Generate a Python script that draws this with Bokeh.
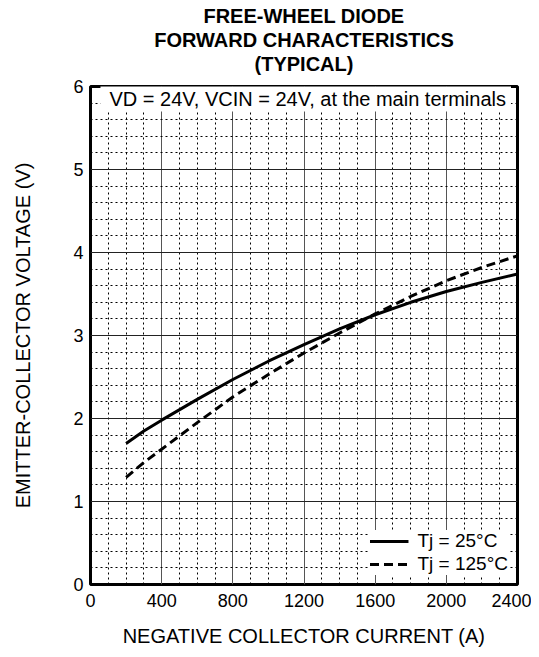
from bokeh.plotting import figure
from bokeh.models import Range1d, FixedTicker, Title, Label, Legend, LegendItem
from bokeh.embed import file_html
from bokeh.resources import INLINE

# ---- data ----
current_a = [200, 300, 400, 600, 800, 1000, 1200, 1400, 1600, 1800, 2000, 2200, 2400]
v_tj25 = [1.70, 1.85, 1.98, 2.23, 2.47, 2.69, 2.89, 3.08, 3.25, 3.40, 3.53, 3.64, 3.74]
v_tj125 = [1.29, 1.47, 1.63, 1.95, 2.26, 2.53, 2.79, 3.03, 3.26, 3.47, 3.66, 3.82, 3.96]

x_major = [0, 400, 800, 1200, 1600, 2000, 2400]
x_minor = [100, 200, 300, 500, 600, 700, 900, 1000, 1100, 1300, 1400, 1500,
           1700, 1800, 1900, 2100, 2200, 2300]
y_major = [0, 1, 2, 3, 4, 5, 6]
y_minor = [0.2, 0.4, 0.6, 0.8, 1.2, 1.4, 1.6, 1.8, 2.2, 2.4, 2.6, 2.8,
           3.2, 3.4, 3.6, 3.8, 4.2, 4.4, 4.6, 4.8, 5.2, 5.4, 5.6, 5.8]

title_lines = ["FREE-WHEEL DIODE", "FORWARD CHARACTERISTICS", "(TYPICAL)"]
x_label = "NEGATIVE COLLECTOR CURRENT (A)"
y_label = "EMITTER-COLLECTOR VOLTAGE (V)"
note = "VD = 24V, VCIN = 24V, at the main terminals"
legend_labels = ["Tj = 25°C", "Tj = 125°C"]

FONT = "Liberation Sans"

p = figure(width=531, height=649,
           x_range=Range1d(0, 2400), y_range=Range1d(0, 6),
           output_backend="svg", toolbar_location=None,
           min_border_left=90, min_border_right=14,
           min_border_top=86, min_border_bottom=65)

p.title.text = ""
# spacer between the frame and the title block
p.add_layout(Title(text=" ", text_font=FONT, text_font_size="9px",
                   standoff=0), "above")
for t in reversed(title_lines):
    p.add_layout(Title(text=t, align="center", text_font=FONT,
                       text_font_size="20px", text_font_style="bold",
                       text_color="black", standoff=0), "above")

p.background_fill_color = "white"
p.border_fill_color = "white"
p.outline_line_color = "black"
p.outline_line_width = 3

# axes
p.xaxis.ticker = FixedTicker(ticks=x_major, minor_ticks=x_minor)
p.yaxis.ticker = FixedTicker(ticks=y_major, minor_ticks=y_minor)
for ax in (p.xaxis[0], p.yaxis[0]):
    ax.axis_line_color = None
    ax.major_tick_line_color = None
    ax.minor_tick_line_color = None
    ax.major_tick_out = 0
    ax.major_tick_in = 0
    ax.minor_tick_out = 0
    ax.minor_tick_in = 0
    ax.major_label_text_font = FONT
    ax.major_label_text_font_size = "18px"
    ax.major_label_text_color = "black"
    ax.axis_label_text_font = FONT
    ax.axis_label_text_font_size = "20px"
    ax.axis_label_text_font_style = "normal"
    ax.axis_label_text_color = "black"

p.xaxis.axis_label = x_label
p.yaxis.axis_label = y_label
p.xaxis.major_label_standoff = 9
p.yaxis.major_label_standoff = 7
p.xaxis.axis_label_standoff = 15
p.yaxis.axis_label_standoff = 36

# grids
p.xgrid.grid_line_color = "#555555"
p.ygrid.grid_line_color = "#222222"
for g in (p.xgrid[0], p.ygrid[0]):
    g.grid_line_width = 1
    g.minor_grid_line_color = "black"
    g.minor_grid_line_width = 1
    g.minor_grid_line_dash = "2 3"

# curves
r1 = p.line(current_a, v_tj25, line_color="black", line_width=3)
r2 = p.line(current_a, v_tj125, line_color="black", line_width=3, line_dash="9 5")

legend = Legend(items=[LegendItem(label=legend_labels[0], renderers=[r1]),
                       LegendItem(label=legend_labels[1], renderers=[r2])],
                location="bottom_right")
legend.label_text_font = FONT
legend.label_text_font_size = "19px"
legend.label_text_color = "black"
legend.border_line_color = None
legend.background_fill_color = "white"
legend.background_fill_alpha = 1.0
legend.glyph_width = 39
legend.glyph_height = 20
legend.label_height = 20
legend.label_standoff = 9
legend.spacing = 1
legend.padding = 6
legend.margin = 9
p.add_layout(legend, "center")

note_label = Label(x=56, y=5.855, text=note, text_font=FONT,
                   text_font_size="20px", text_color="black",
                   text_baseline="middle", background_fill_color="white",
                   padding=dict(left=9, right=5, top=2, bottom=2))
p.add_layout(note_label)

open("out.html", "w").write(file_html(p, INLINE))
